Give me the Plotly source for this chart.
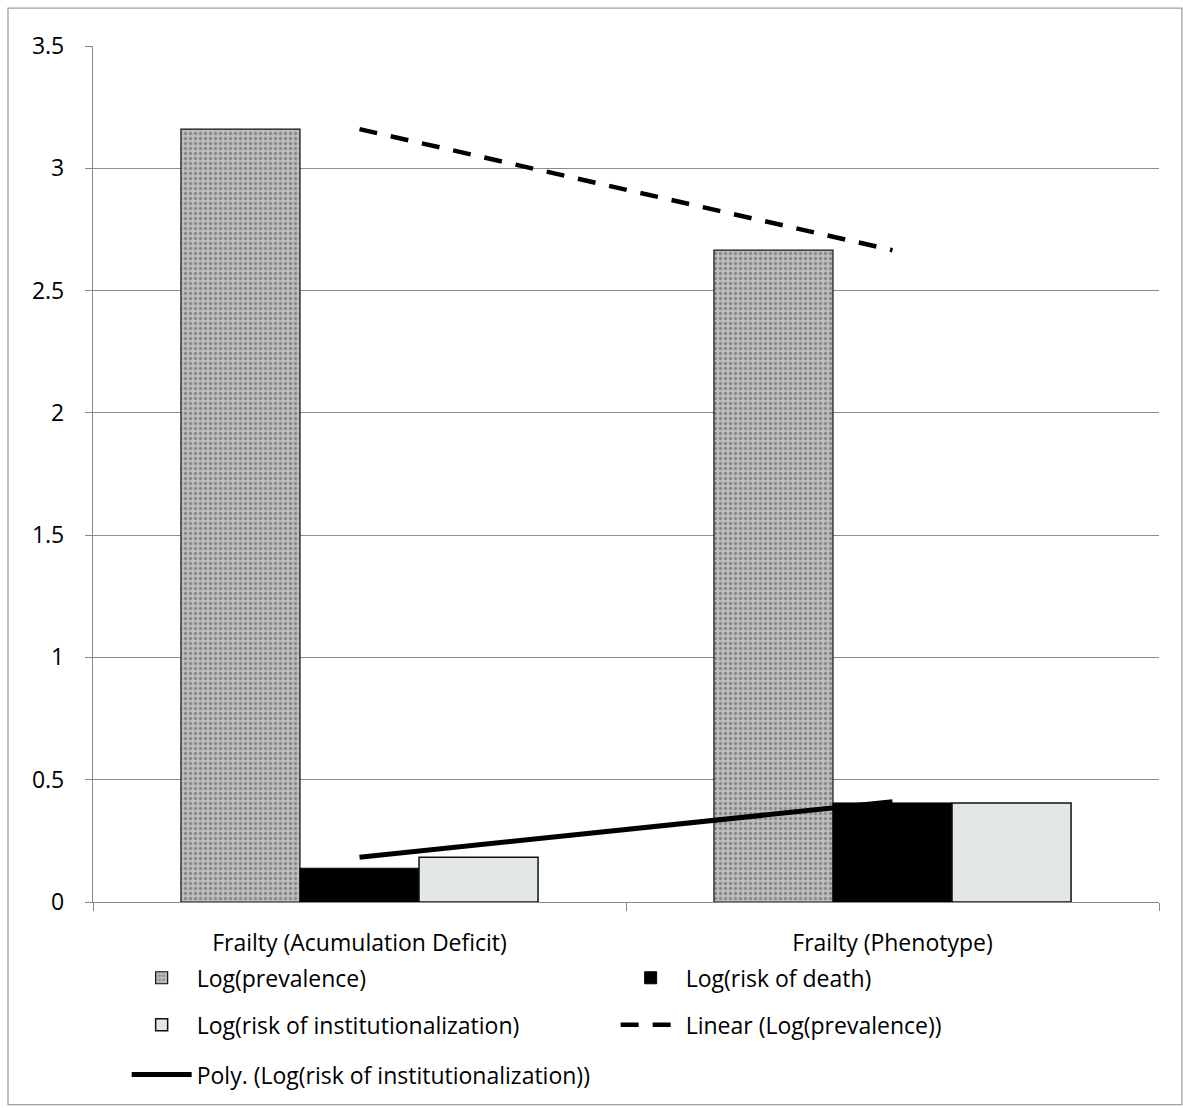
import plotly.graph_objects as go

categories = ["Frailty (Acumulation Deficit)", "Frailty (Phenotype)"]
log_prevalence = [3.16, 2.665]
log_risk_death = [0.138, 0.405]
log_risk_inst = [0.183, 0.405]
linear_prev = [3.16, 2.665]
poly_inst = [0.183, 0.41]
y_ticks = [0, 0.5, 1, 1.5, 2, 2.5, 3, 3.5]
y_tick_labels = ["0", "0.5", "1", "1.5", "2", "2.5", "3", "3.5"]

FONT = "Open Sans"
FS = 23
fig = go.Figure()
fig.add_trace(go.Bar(
    x=categories, y=log_prevalence, name="Log(prevalence)", legend="legend",
    marker=dict(color="#b5b5b5", line=dict(color="#111111", width=1.2),
                pattern=dict(shape=".", fgcolor="#555555", bgcolor="#bdbdbd",
                             size=5, solidity=0.35, fillmode="overlay"))))
fig.add_trace(go.Bar(
    x=categories, y=log_risk_death, name="Log(risk of death)", legend="legend",
    marker=dict(color="#000000", line=dict(color="#000000", width=1))))
fig.add_trace(go.Bar(
    x=categories, y=log_risk_inst, name="Log(risk of institutionalization)", legend="legend2",
    marker=dict(color="#e4e7e8", line=dict(color="#111111", width=1.5))))
fig.add_trace(go.Scatter(
    x=categories, y=linear_prev, mode="lines", name="Linear (Log(prevalence))", legend="legend2",
    line=dict(color="#000000", width=4.5, dash="18px,14px")))
fig.add_trace(go.Scatter(
    x=categories, y=poly_inst, mode="lines", name="Poly. (Log(risk of institutionalization))",
    legend="legend3", line=dict(color="#000000", width=5)))

leg_common = dict(orientation="h", xanchor="left", yanchor="middle",
                  font=dict(family=FONT, size=FS, color="#000000"),
                  entrywidth=414, entrywidthmode="pixels", bgcolor="rgba(0,0,0,0)",
                  itemwidth=60)
H = 858.0
def py(ypix):
    return (904 - ypix) / H

LX = 0.025 + 7 / 1066
fig.update_layout(
    width=1183, height=1108,
    margin=dict(l=93, r=24, t=46, b=204),
    paper_bgcolor="white", plot_bgcolor="white",
    barmode="group", bargap=0.33, bargroupgap=0,
    font=dict(family=FONT, size=FS, color="#000000"),
    legend=dict(x=LX, y=py(980), **leg_common),
    legend2=dict(x=LX, y=py(1027), **leg_common),
    legend3=dict(x=LX, y=py(1077), **leg_common),
    xaxis=dict(type="category", showline=True, linecolor="#888888", linewidth=1.3,
               ticks="outside", tickson="boundaries", ticklen=8, tickcolor="#888888",
               tickfont=dict(family=FONT, size=FS), showgrid=False,
               ticklabelstandoff=20),
    yaxis=dict(range=[0, 3.5], tickvals=y_ticks, ticktext=y_tick_labels,
               showline=True, linecolor="#888888", linewidth=1.3,
               ticks="outside", ticklen=7, tickcolor="#888888",
               showgrid=True, gridcolor="#8c8c8c", gridwidth=1.2,
               zeroline=False, ticklabelstandoff=16,
               tickfont=dict(family=FONT, size=FS)),
    shapes=[dict(type="rect", xref="paper", yref="paper",
                 x0=(8 - 93) / 1066, x1=(1182 - 93) / 1066,
                 y0=py(1107), y1=py(8),
                 line=dict(color="#a0a0a0", width=1.3), fillcolor="rgba(0,0,0,0)",
                 layer="below")],
)

fig.write_html("out.html")
